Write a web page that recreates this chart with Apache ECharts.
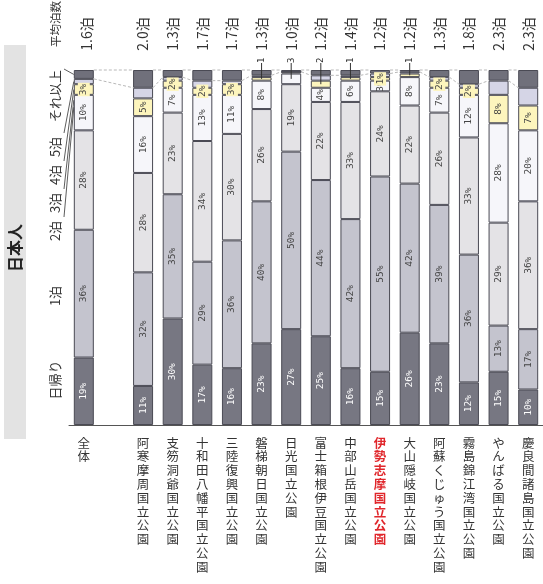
<!DOCTYPE html>
<html>
<head>
<meta charset="utf-8">
<script src="https://cdn.jsdelivr.net/npm/echarts@6/dist/echarts.min.js"></script>
<style>
  html, body { margin: 0; padding: 0; background: #fff; }
  #chart { width: 543px; height: 584px; }
</style>
</head>
<body>
<div id="chart"></div>
<script>
// Length of stay shares (%) per area, stacked from day trip to 6+ nights.
const categories = ['全体', '', '阿寒摩周国立公園', '支笏洞爺国立公園', '十和田八幡平国立公園', '三陸復興国立公園',
  '磐梯朝日国立公園', '日光国立公園', '富士箱根伊豆国立公園', '中部山岳国立公園', '伊勢志摩国立公園',
  '大山隠岐国立公園', '阿蘇くじゅう国立公園', '霧島錦江湾国立公園', 'やんばる国立公園', '慶良間諸島国立公園'];
const stayLabels = ['日帰り', '1泊', '2泊', '3泊', '4泊', '5泊', 'それ以上'];

const dayTrip     = [19, null, 11, 30, 17, 16, 23, 27, 25, 16, 15, 26, 23, 12, 15, 10];
const oneNight    = [36, null, 32, 35, 29, 36, 40, 50, 44, 42, 55, 42, 39, 36, 13, 17];
const twoNights   = [28, null, 28, 23, 34, 30, 26, 19, 22, 33, 24, 22, 26, 33, 29, 36];
const threeNights = [10, null, 16, 7, 13, 11, 8, 3, 4, 6, 3, 8, 7, 12, 28, 20];
const fourNights  = [3, null, 5, 2, 2, 3, 1, 0.5, 2, 1, 1, 1, 2, 2, 8, 7];
const fiveNights  = [1.5, null, 3, 1, 2, 1, 0.5, 0, 1.5, 0.5, 1, 0.5, 1, 1, 4, 5];
const sixPlus     = [2.5, null, 5, 2, 3, 3, 1.5, 0.5, 1.5, 1.5, 1, 0.5, 2, 4, 3, 5];

const avgNights = [1.6, null, 2.0, 1.3, 1.7, 1.7, 1.3, 1.0, 1.2, 1.4, 1.2, 1.2, 1.3, 1.8, 2.3, 2.3];

// Small segments labelled outside the bar with a pointer: [category index, stay index]
const callouts = [[6, 4], [7, 3], [8, 4], [9, 4], [11, 4]];

const highlightArea = '伊勢志摩国立公園';

const stacks = [dayTrip, oneNight, twoNights, threeNights, fourNights, fiveNights, sixPlus];
const colors = ['#777782', '#c4c4ce', '#e4e3e6', '#f6f6fa', '#fdf5bd', '#d5d5e6', '#70707b'];
const BAR_W = 20;

function isCallout(ci, si) {
  return callouts.some(c => c[0] === ci && c[1] === si);
}
function cumulative(ci, upto) {
  let s = 0;
  for (let k = 0; k < upto; k++) s += stacks[k][ci] || 0;
  return s;
}

const chart = echarts.init(document.getElementById('chart'), null, { renderer: 'canvas' });

const barSeries = stacks.map((values, si) => ({
  name: stayLabels[si],
  type: 'bar',
  stack: 'stay',
  barWidth: BAR_W,
  itemStyle: { color: colors[si], borderColor: '#4a4a54', borderWidth: 1 },
  label: {
    show: si <= 4,
    position: 'inside',
    rotate: 90,
    fontFamily: 'DejaVu Sans Mono',
    fontSize: 9.5,
    color: si === 0 ? '#ffffff' : '#444',
    backgroundColor: si === 4 ? '#fdf5bd' : 'transparent',
    padding: si === 4 ? [1, 1] : 0,
    formatter: p => p.value + '%'
  },
  data: values.map((v, ci) => ({
    value: v,
    label: { show: si <= 4 && v != null && v >= 1 && !isCallout(ci, si) }
  })),
  z: 2
}));

// Dashed connector lines between neighbouring bars (top edge and 5泊/それ以上 boundary)
const connectorData = [];
const filled = categories.map((c, i) => i).filter(i => dayTrip[i] != null);
for (let k = 0; k < filled.length - 1; k++) {
  const a = filled[k], b = filled[k + 1];
  connectorData.push([a, b, cumulative(a, 6), cumulative(b, 6)]);
}

const connectorSeries = {
  type: 'custom',
  coordinateSystem: 'cartesian2d',
  silent: true,
  z: 1,
  data: connectorData,
  encode: { x: 0, y: 2 },
  renderItem(params, api) {
    const a = api.value(0), b = api.value(1);
    const topA = api.coord([a, 100]), topB = api.coord([b, 100]);
    const midA = api.coord([a, api.value(2)]), midB = api.coord([b, api.value(3)]);
    const h = BAR_W / 2;
    const style = { stroke: '#b8b8b8', lineWidth: 1, lineDash: [3, 2] };
    return {
      type: 'group',
      children: [
        { type: 'line', shape: { x1: topA[0] + h, y1: topA[1], x2: topB[0] - h, y2: topB[1] }, style },
        { type: 'line', shape: { x1: midA[0] + h, y1: midA[1], x2: midB[0] - h, y2: midB[1] }, style }
      ]
    };
  }
};

// Pointer labels for very thin segments
const calloutSeries = {
  type: 'custom',
  coordinateSystem: 'cartesian2d',
  silent: true,
  z: 5,
  data: callouts.map(([ci, si]) => [ci, cumulative(ci, si) + stacks[si][ci] / 2, stacks[si][ci]]),
  encode: { x: 0, y: 1 },
  renderItem(params, api) {
    const ci = api.value(0);
    const top = api.coord([ci, 100]);
    const mid = api.coord([ci, api.value(1)]);
    return {
      type: 'group',
      children: [
        { type: 'line', shape: { x1: top[0], y1: top[1] - 7, x2: mid[0], y2: mid[1] },
          style: { stroke: '#333', lineWidth: 1 } },
        { type: 'text', x: top[0], y: top[1] - 7, rotation: Math.PI / 2,
          style: { text: String(api.value(2)), fontSize: 9, fontFamily: 'DejaVu Sans Mono',
                   fill: '#333', align: 'left', verticalAlign: 'middle' } }
      ]
    };
  }
};

// Average nights, written above each bar
const averageSeries = {
  type: 'custom',
  coordinateSystem: 'cartesian2d',
  silent: true,
  z: 5,
  data: avgNights.map((v, i) => [i, v]).filter(d => d[1] != null),
  encode: { x: 0 },
  renderItem(params, api) {
    const ci = api.value(0);
    const p = api.coord([ci, 100]);
    const first = ci === 0;
    return {
      type: 'text',
      x: p[0] + (first ? 3 : 0),
      y: 34,
      rotation: Math.PI / 2,
      style: { text: api.value(1).toFixed(1) + '泊', fontSize: 14, fontFamily: 'Noto Sans CJK JP',
               fill: '#333', align: 'center', verticalAlign: 'middle' }
    };
  }
};

chart.setOption({
  animation: false,
  grid: { left: 69, right: -6, top: 70, bottom: 159 },
  xAxis: {
    type: 'category',
    data: categories,
    axisTick: { show: false },
    axisLine: { lineStyle: { color: '#555', width: 1 } },
    axisLabel: {
      interval: 0,
      margin: 11,
      fontFamily: 'Noto Sans CJK JP',
      fontSize: 12.5,
      lineHeight: 13.8,
      color: '#333',
      formatter: name => {
        const vertical = name.split('').join('\n');
        return name === highlightArea ? '{hl|' + vertical + '}' : vertical;
      },
      rich: {
        hl: { color: '#e0262b', fontWeight: 'bold', fontSize: 12.5, lineHeight: 13.8, fontFamily: 'Noto Sans CJK JP' }
      }
    }
  },
  yAxis: { type: 'value', min: 0, max: 100, show: false, splitLine: { show: false } },
  series: [connectorSeries, ...barSeries, calloutSeries, averageSeries]
});

// Side annotations: section title, stay-length legend with pointers, header
const legendPos = [380, 296, 231, 203, 175, 147, 96];
const legendText = stayLabels.map((t, k) => ({
  type: 'text',
  x: 55, y: legendPos[k],
  rotation: Math.PI / 2,
  style: { text: t, fontSize: 13, fontFamily: 'Noto Sans CJK JP', fill: '#333',
           align: 'center', verticalAlign: 'middle' }
}));

const targetValues = [
  null, null,
  cumulative(0, 4) - 3.5,
  cumulative(0, 4) - 1.5,
  cumulative(0, 4) + fourNights[0] / 2,
  cumulative(0, 5) + fiveNights[0] / 2,
  cumulative(0, 6) + sixPlus[0] / 2
];
const barLeft = chart.convertToPixel({ gridIndex: 0 }, [0, 0])[0] - BAR_W / 2;
const pointerLines = [];
for (let k = 2; k < 7; k++) {
  const ty = chart.convertToPixel({ gridIndex: 0 }, [0, targetValues[k]])[1];
  const halfLen = stayLabels[k].length * 13 / 2;
  pointerLines.push({
    type: 'line',
    shape: { x1: 64, y1: legendPos[k] - halfLen - 1, x2: barLeft, y2: ty },
    style: { stroke: '#333', lineWidth: 0.8 }
  });
}

chart.setOption({
  graphic: [
    { type: 'rect', shape: { x: 4, y: 45, width: 22, height: 394 }, style: { fill: '#e3e3e3' } },
    { type: 'text', x: 15, y: 248, rotation: Math.PI / 2,
      style: { text: '日本人', fontSize: 16, fontWeight: 'bold', fontFamily: 'Noto Sans CJK JP',
               fill: '#222', align: 'center', verticalAlign: 'middle' } },
    { type: 'text', x: 56, y: 24, rotation: Math.PI / 2,
      style: { text: '平均泊数', fontSize: 11.5, fontFamily: 'Noto Sans CJK JP', fill: '#333',
               align: 'center', verticalAlign: 'middle' } },
    ...legendText,
    ...pointerLines
  ]
});
</script>
</body>
</html>
